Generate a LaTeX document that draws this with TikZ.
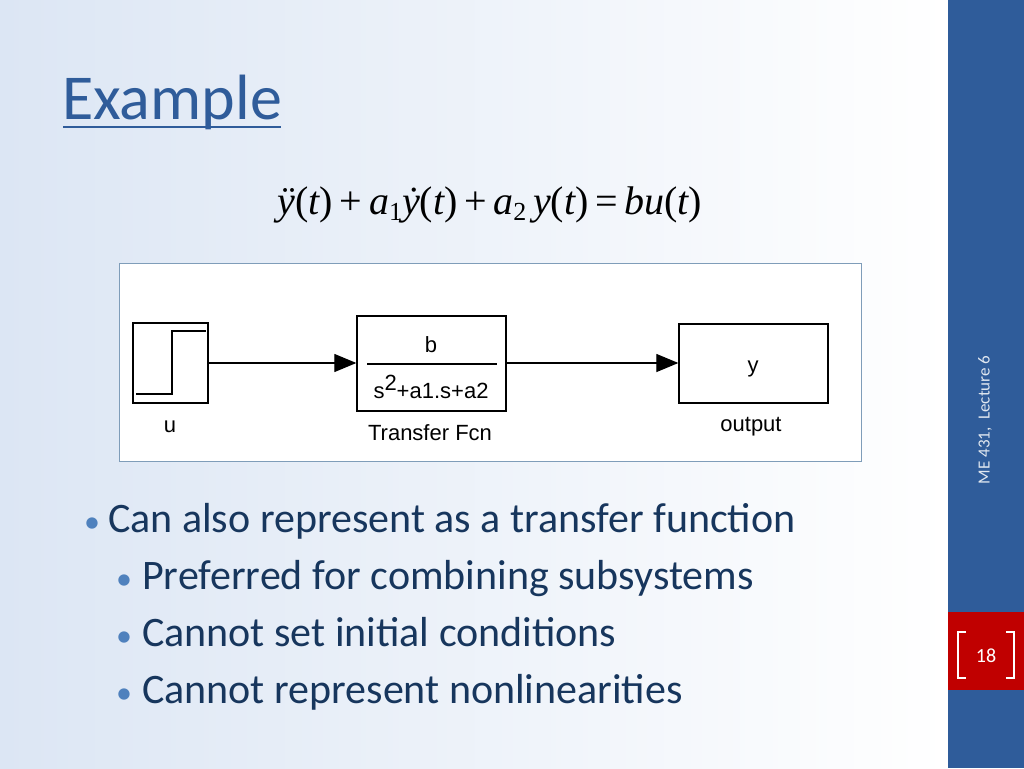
\documentclass[tikz,border=0pt]{standalone}
\usepackage{fontspec}
\setmainfont{Carlito}
\newfontfamily\arial{Liberation Sans}
\newfontfamily\timesf{Liberation Serif}
\usetikzlibrary{arrows.meta}
\definecolor{barblue}{HTML}{2F5C9A}
\definecolor{titleblue}{HTML}{2F5C9A}
\definecolor{txt}{HTML}{17365D}
\definecolor{bul}{HTML}{4F81BD}
\definecolor{pgred}{HTML}{C00000}
\definecolor{frame}{HTML}{7F9DB9}
\definecolor{bgl}{HTML}{DCE6F4}
\tikzset{blk/.style={draw,line width=1.3pt,fill=white},
 sl/.style={font=\arial\fontsize{22}{24}\selectfont,inner sep=0},
 bt/.style={anchor=base west,inner sep=0,text=txt,font=\fontsize{42}{46}\selectfont},
 bd/.style={anchor=base west,inner sep=0,text=bul,font=\fontsize{32}{34}\selectfont},
 arr/.style={line width=1.2pt,-{Triangle[length=22pt,width=18pt]}}}
\begin{document}
\begin{tikzpicture}[x=1pt,y=-1pt]
\shade[left color=bgl,right color=white] (0,0) rectangle (948,768);
\useasboundingbox (0,0) rectangle (1024,768);
\fill[barblue] (948,0) rectangle (1024,768);
\fill[pgred] (948,612) rectangle (1024,690);
\draw[white,line width=1.5pt] (966,632) -- (958,632) -- (958,678) -- (966,678);
\draw[white,line width=1.5pt] (1006,632) -- (1014,632) -- (1014,678) -- (1006,678);
\node[white,font=\fontsize{20}{22}\selectfont] (pg) at (986,656) {18};
\node[rotate=90,text=white!85!barblue,font=\fontsize{17}{19}\selectfont] (lec) at (985,420) {ME 431,\ \ Lecture 6};
\node[anchor=base west,inner sep=0,text=titleblue,font=\fontsize{64}{66}\selectfont] (title) at (62,119) {Example};
\draw[titleblue,line width=1.2pt] (63,127) -- (281,127);
\node[inner sep=0,font=\timesf\fontsize{40}{42}\selectfont] (eq) at (490,205) {\itshape \"y\upshape(\itshape t\upshape)\,+\,\itshape a\upshape\raisebox{-6pt}{\fontsize{26}{28}\selectfont 1}\itshape\.y\upshape(\itshape t\upshape)\,+\,\itshape a\upshape\raisebox{-6pt}{\fontsize{26}{28}\selectfont 2}\,\itshape y\upshape(\itshape t\upshape)\,=\,\itshape bu\upshape(\itshape t\upshape)};
\draw[frame,fill=white] (119,263) rectangle (861,461);
\node[blk,minimum width=75pt,minimum height=80pt] (u) at (170.5,363) {};
\draw[line width=1.3pt] (136,394) -- (172,394) -- (172,331) -- (206,331);
\node[blk,minimum width=149pt,minimum height=95pt] (tf) at (431.5,363.5) {};
\node[sl] (b) at (431,345) {b};
\draw[line width=1.2pt] (367,364) -- (497,364);
\node[sl] (den) at (431,387) {s\raisebox{8pt}{2}+a1.s+a2};
\node[blk,minimum width=149pt,minimum height=79pt] (out) at (753.5,363.5) {};
\node[sl] (y) at (753,369) {y};
\node[sl] (ul) at (170,427) {u};
\node[sl] (tfl) at (430,433) {Transfer Fcn};
\node[sl] (ol) at (751,427) {output};
\draw[arr] (u.east |- 0,363) -- (tf.west |- 0,363);
\draw[arr] (tf.east |- 0,363) -- (out.west |- 0,363);
\node[bd] (b1) at (84,532) {•};
\node[bt] (t1) at (108,532) {Can also represent as a transfer function};
\node[bd] (b2) at (116,589) {•};
\node[bt] (t2) at (142,589) {Preferred for combining subsystems};
\node[bd] (b3) at (116,646) {•};
\node[bt] (t3) at (142,646) {Cannot set initial conditions};
\node[bd] (b4) at (116,703) {•};
\node[bt] (t4) at (142,703) {Cannot represent nonlinearities};
\end{tikzpicture}
\end{document}
